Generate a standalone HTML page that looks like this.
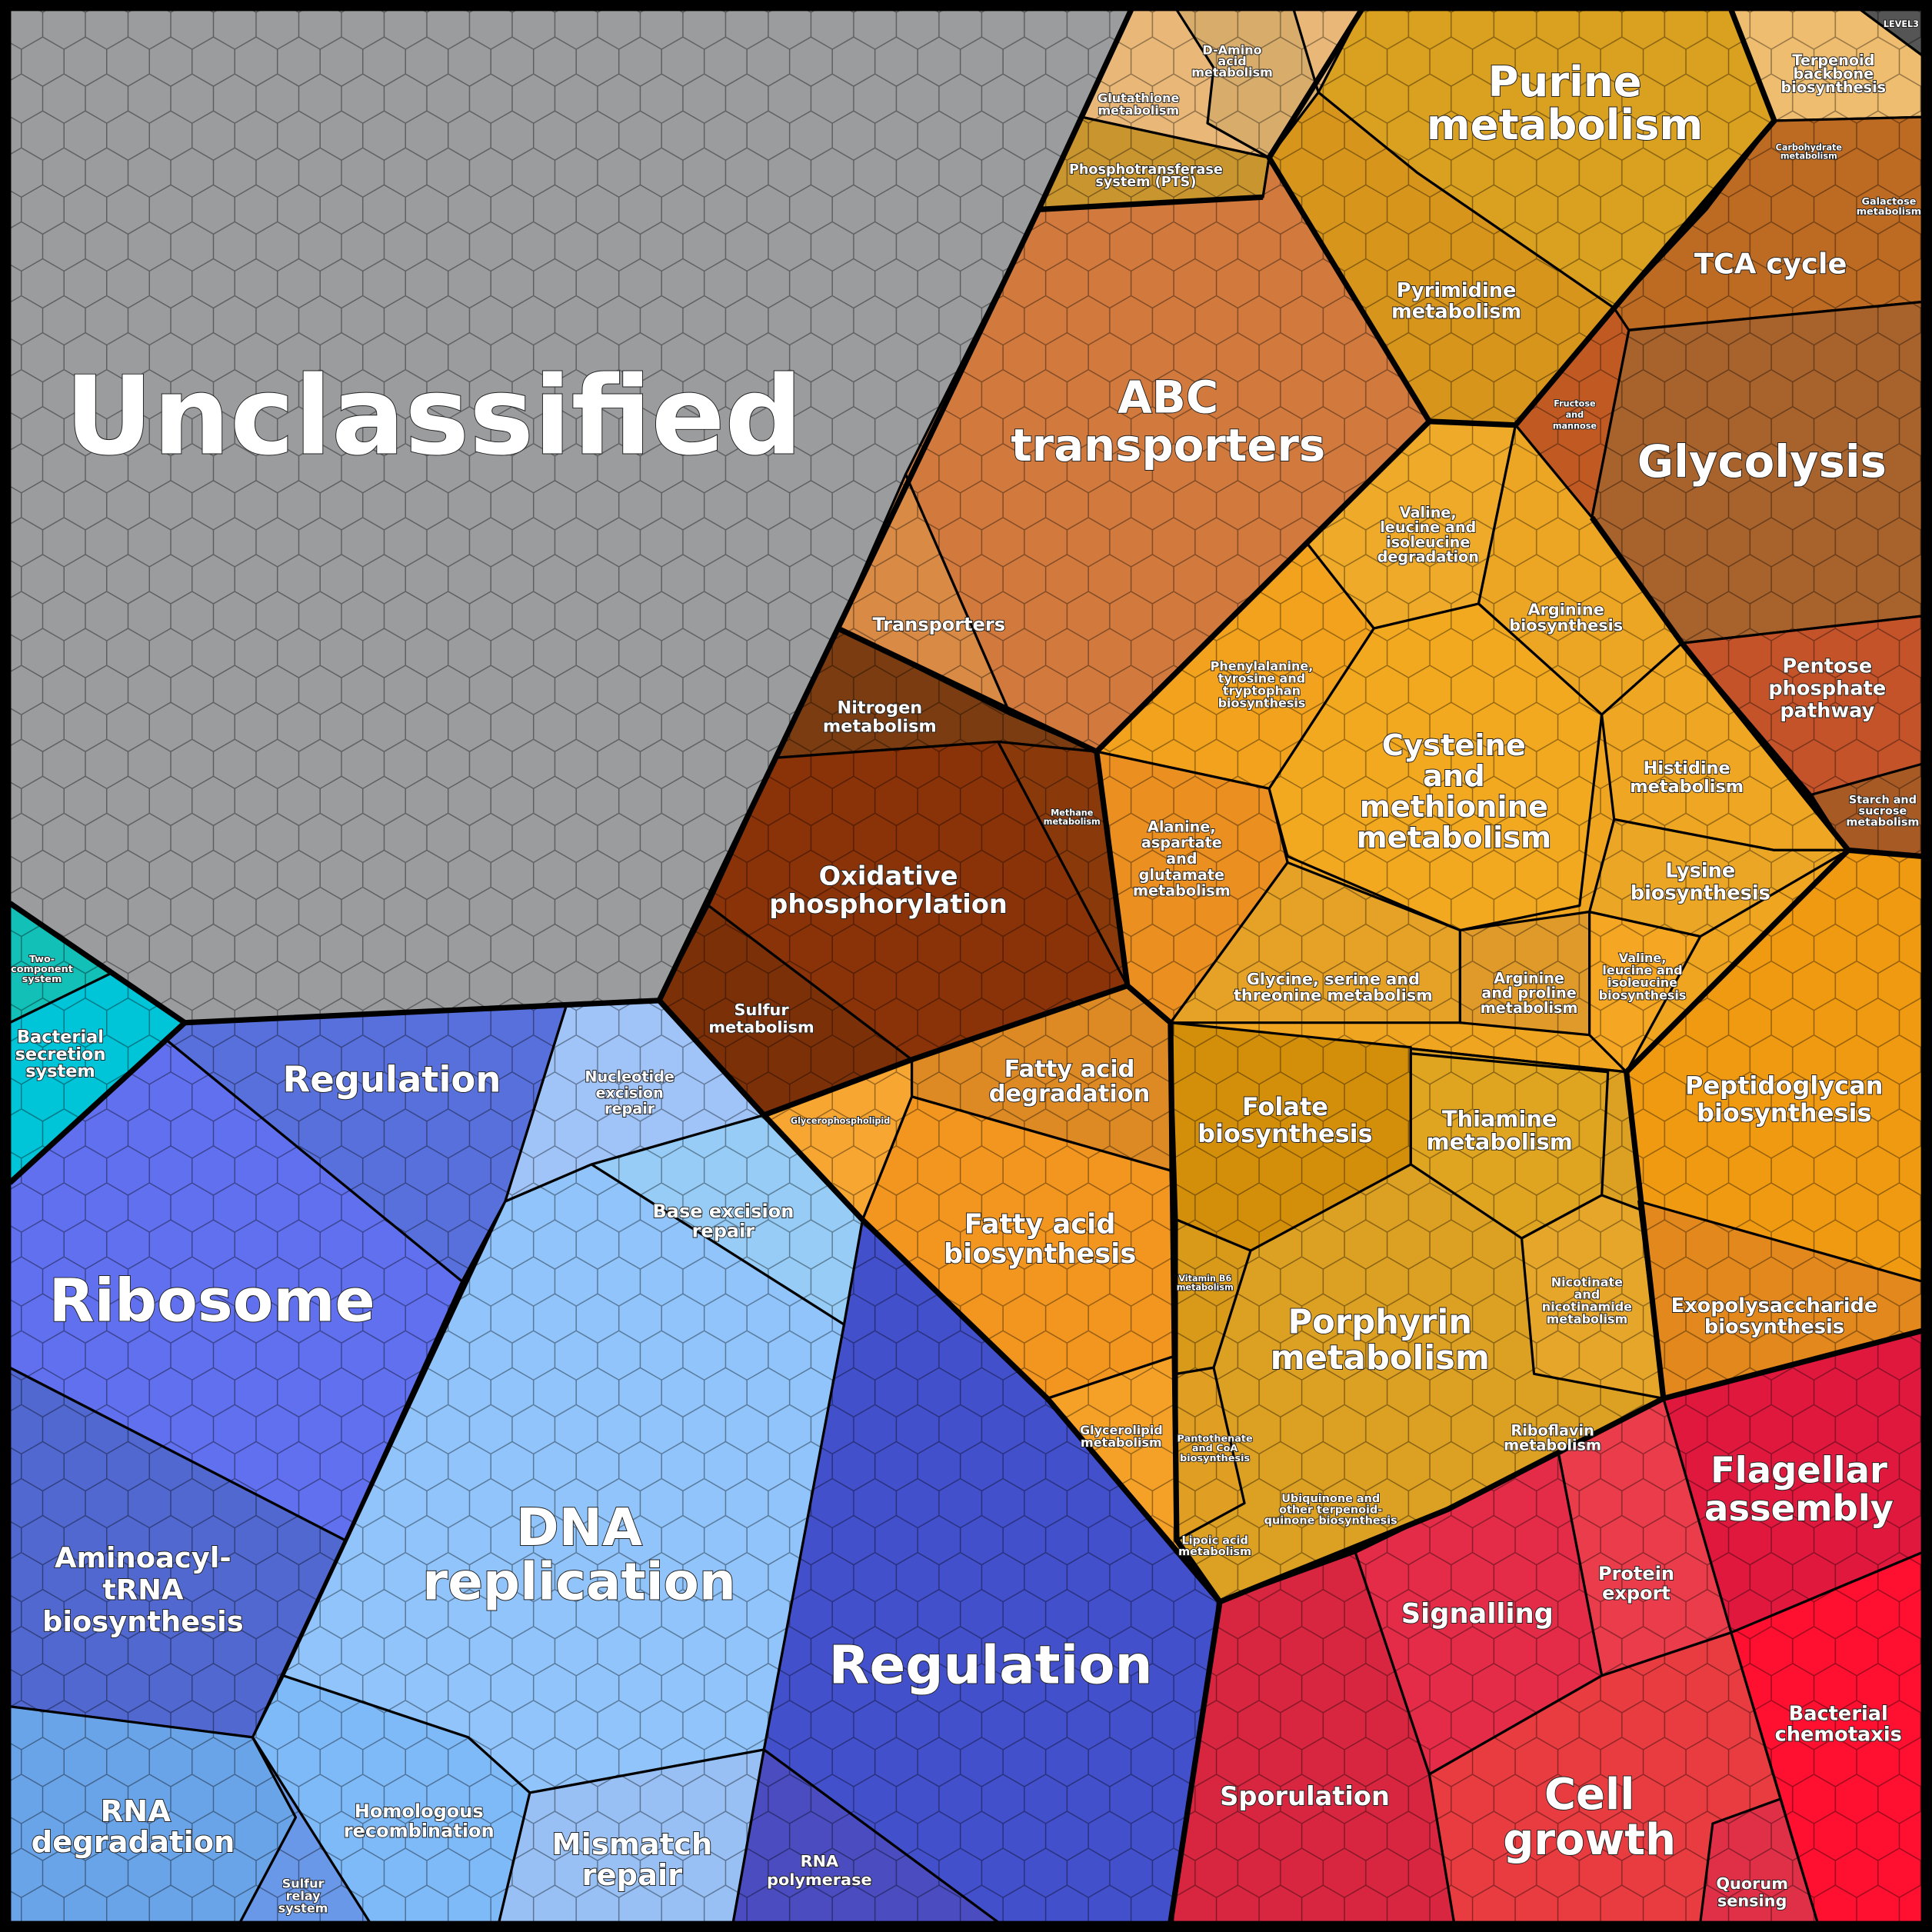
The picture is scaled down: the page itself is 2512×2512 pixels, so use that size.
<!DOCTYPE html>
<html><head><meta charset="utf-8"><style>
html,body{margin:0;padding:0;background:#000;}
svg{display:block;}
text{font-family:"DejaVu Sans","Liberation Sans",sans-serif;font-weight:bold;fill:#fff;stroke:#222;stroke-width:1.2;paint-order:stroke;text-anchor:middle;}
</style></head><body>
<svg width="2512" height="2512" viewBox="0 0 1568 1568" xmlns="http://www.w3.org/2000/svg">
<defs>
<pattern id="hx" width="34.64" height="60" patternUnits="userSpaceOnUse">
<path d="M17.32,0 L34.64,10 L34.64,30 L17.32,40 L0,30 L0,10 Z M17.32,40 L17.32,60" fill="none" stroke="#000" stroke-opacity="0.4" stroke-width="0.9"/>
</pattern>
</defs>
<rect width="1568" height="1568" fill="#000"/>
<g stroke="#000" stroke-width="2" stroke-linejoin="round">
<polygon fill="#9a9c9e" points="8,8 918,8 843,170 680,510 535,812 150,830 8,733"/>
<polygon fill="#e9b878" points="918,8 1105,8 1070,75 1030,128 878,95"/>
<polygon fill="#d8ad6c" points="955,8 1050,8 1070,75 1030,128 980,100 985,55"/>
<polygon fill="#c9952f" points="878,95 1030,128 1025,160 843,170"/>
<polygon fill="#daa01f" points="1105,8 1405,8 1440,98 1310,250 1150,140 1070,75"/>
<polygon fill="#d8951b" points="1070,75 1150,140 1310,250 1230,345 1160,342 1030,128"/>
<polygon fill="#efbd6f" points="1405,8 1530,8 1560,40 1560,95 1440,98"/>
<polygon fill="#555" points="1510,8 1560,8 1560,45"/>
<polygon fill="#bd6a22" points="1440,98 1560,95 1560,245 1320,268 1310,250 1385,170"/>
<polygon fill="#c15a22" points="1310,250 1322,268 1292,420 1230,345"/>
<polygon fill="#a8622c" points="1322,268 1560,245 1560,500 1365,522 1292,420"/>
<polygon fill="#c4532a" points="1365,522 1560,500 1560,620 1500,690 1470,645"/>
<polygon fill="#a85a25" points="1470,645 1560,620 1560,695 1500,692"/>
<polygon fill="#d27a3e" points="843,170 1025,160 1030,128 1160,342 890,610 820,580 735,385"/>
<polygon fill="#d98a45" points="735,385 820,580 890,610 680,510"/>
<polygon fill="#7a3c10" points="680,510 820,580 890,610 810,602 630,615"/>
<polygon fill="#8a3208" points="630,615 810,602 915,800 740,860 575,735"/>
<polygon fill="#8a3a0a" points="810,602 890,610 915,800"/>
<polygon fill="#7c3008" points="575,735 740,860 620,905 535,812"/>
<polygon fill="#f0a520" points="890,610 1160,342 1230,345 1292,420 1365,522 1500,690 1320,870 950,830 915,800"/>
<polygon fill="#eeaa28" points="1060,440 1160,342 1230,345 1200,490 1115,510"/>
<polygon fill="#eda624" points="1200,490 1230,345 1292,420 1365,522 1300,580"/>
<polygon fill="#f3a91f" points="1115,510 1200,490 1300,580 1282,735 1185,755 1045,695 1030,640"/>
<polygon fill="#f2a21c" points="890,610 1060,440 1115,510 1030,640"/>
<polygon fill="#ea8f20" points="890,610 1030,640 1045,700 950,830 915,800"/>
<polygon fill="#e6a226" points="1045,700 1185,755 1185,830 950,830"/>
<polygon fill="#e09a2a" points="1185,755 1290,740 1290,840 1185,830"/>
<polygon fill="#f5a622" points="1290,740 1380,760 1320,870 1290,840"/>
<polygon fill="#efa622" points="1300,580 1365,522 1500,690 1440,690 1310,665"/>
<polygon fill="#eca625" points="1310,665 1440,690 1500,690 1380,760 1290,740"/>
<polygon fill="#dd8a25" points="740,860 915,800 950,830 950,950 740,890"/>
<polygon fill="#f3961f" points="700,990 740,890 950,950 955,1100 850,1135"/>
<polygon fill="#f8a632" points="620,905 740,860 740,890 700,990"/>
<polygon fill="#f5a128" points="850,1135 955,1100 955,1250 990,1300"/>
<polygon fill="#dca022" points="950,830 1320,870 1350,1135 1175,1225 990,1300 955,1250"/>
<polygon fill="#d48f0a" points="950,830 1145,850 1145,945 1015,1015 955,990"/>
<polygon fill="#e0a520" points="1145,855 1305,870 1300,970 1235,1005 1145,945"/>
<polygon fill="#e6a62a" points="1235,1005 1300,970 1340,985 1350,1135 1245,1115"/>
<polygon fill="#d99a1a" points="955,990 1015,1015 985,1110 955,1115"/>
<polygon fill="#e09e22" points="955,1115 985,1110 1010,1220 955,1250"/>
<polygon fill="#f09a12" points="1500,690 1560,695 1560,1080 1350,1135 1320,870"/>
<polygon fill="#e2881c" points="1330,975 1560,1040 1560,1080 1350,1135"/>
<polygon fill="#e0183e" points="1350,1135 1560,1080 1560,1260 1405,1325"/>
<polygon fill="#ff1030" points="1405,1325 1560,1260 1560,1560 1475,1560"/>
<polygon fill="#ea3c4a" points="1265,1180 1350,1135 1405,1325 1300,1360"/>
<polygon fill="#e42c48" points="1100,1260 1265,1180 1300,1360 1160,1440"/>
<polygon fill="#e93c40" points="1160,1440 1300,1360 1405,1325 1445,1460 1380,1560 1180,1560"/>
<polygon fill="#e03048" points="1390,1480 1445,1460 1475,1560 1380,1560"/>
<polygon fill="#d82640" points="990,1300 1100,1260 1160,1440 1180,1560 950,1560"/>
<polygon fill="#4250cc" points="700,990 850,1135 990,1300 950,1560 810,1560 620,1420 685,1075"/>
<polygon fill="#4a4cc0" points="620,1420 810,1560 595,1560"/>
<polygon fill="#96ccf5" points="480,945 620,905 700,990 685,1075"/>
<polygon fill="#90c4fa" points="410,975 480,945 685,1075 620,1420 430,1455 380,1410 230,1360"/>
<polygon fill="#7fbaf8" points="205,1410 230,1360 380,1410 430,1455 405,1560 300,1560"/>
<polygon fill="#98c0f4" points="430,1455 620,1420 595,1560 405,1560"/>
<polygon fill="#a0c4f8" points="460,815 535,812 620,905 480,945 410,975"/>
<polygon fill="#5870dc" points="150,830 460,815 410,975 375,1040 135,844"/>
<polygon fill="#6070ee" points="8,960 135,844 375,1040 280,1250 8,1110"/>
<polygon fill="#5068d0" points="8,1110 280,1250 205,1410 8,1385"/>
<polygon fill="#6aa4e8" points="8,1385 205,1410 240,1475 195,1560 8,1560"/>
<polygon fill="#6a98e8" points="205,1410 300,1560 195,1560 240,1475"/>
<polygon fill="#12c0b8" points="8,733 90,790 8,830"/>
<polygon fill="#00c4d8" points="8,830 90,790 150,830 8,960"/>
</g>
<rect x="8" y="8" width="1552" height="1552" fill="url(#hx)"/>
<g fill="none" stroke="#000" stroke-width="4.5" stroke-linejoin="round">
<polyline points="918,8 843,170 680,510 535,812 150,830 8,733"/>
<polyline points="535,812 620,905 740,860 915,800 890,610 1160,342 1030,128 1105,8"/>
<polyline points="1160,342 1230,345 1310,250 1440,98 1405,8"/>
<polyline points="1292,420 1365,522 1500,690 1320,870 1350,1135 1175,1225 990,1300"/>
<polyline points="1500,690 1560,695"/>
<polyline points="915,800 950,830 955,1250 990,1300 850,1135 700,990 620,905"/>
<polyline points="990,1300 950,1560"/>
<polyline points="1350,1135 1560,1080"/>
<polyline points="150,830 8,960"/>
<polyline points="843,170 1025,160"/>
<polyline points="680,510 890,610"/>
</g>
<rect x="4" y="4" width="1560" height="1560" fill="none" stroke="#000" stroke-width="8"/>
<g>
<text x="352" y="368" font-size="88" stroke-width="3">Unclassified</text>
<text x="1270" y="78" font-size="34" stroke-width="2">Purine</text>
<text x="1270" y="113" font-size="34" stroke-width="2">metabolism</text>
<text x="948" y="335" font-size="36" stroke-width="2">ABC</text>
<text x="948" y="374" font-size="36" stroke-width="2">transporters</text>
<text x="1430" y="387" font-size="36" stroke-width="2">Glycolysis</text>
<text x="1437" y="222" font-size="23">TCA cycle</text>
<text x="1182" y="241" font-size="16">Pyrimidine</text>
<text x="1182" y="258" font-size="16">metabolism</text>
<text x="762" y="512" font-size="15">Transporters</text>
<text x="714" y="579" font-size="14">Nitrogen</text>
<text x="714" y="594" font-size="14">metabolism</text>
<text x="721" y="718" font-size="21">Oxidative</text>
<text x="721" y="741" font-size="21">phosphorylation</text>
<text x="618" y="824" font-size="13">Sulfur</text>
<text x="618" y="838" font-size="13">metabolism</text>
<text x="1180" y="613" font-size="24">Cysteine</text>
<text x="1180" y="638" font-size="24">and</text>
<text x="1180" y="663" font-size="24">methionine</text>
<text x="1180" y="688" font-size="24">metabolism</text>
<text x="1483" y="546" font-size="16">Pentose</text>
<text x="1483" y="564" font-size="16">phosphate</text>
<text x="1483" y="582" font-size="16">pathway</text>
<text x="1369" y="628" font-size="14">Histidine</text>
<text x="1369" y="643" font-size="14">metabolism</text>
<text x="1380" y="712" font-size="16">Lysine</text>
<text x="1380" y="730" font-size="16">biosynthesis</text>
<text x="1271" y="499" font-size="13">Arginine</text>
<text x="1271" y="512" font-size="13">biosynthesis</text>
<text x="1159" y="420" font-size="12">Valine,</text>
<text x="1159" y="432" font-size="12">leucine and</text>
<text x="1159" y="444" font-size="12">isoleucine</text>
<text x="1159" y="456" font-size="12">degradation</text>
<text x="959" y="675" font-size="12">Alanine,</text>
<text x="959" y="688" font-size="12">aspartate</text>
<text x="959" y="701" font-size="12">and</text>
<text x="959" y="714" font-size="12">glutamate</text>
<text x="959" y="727" font-size="12">metabolism</text>
<text x="1082" y="799" font-size="13">Glycine, serine and</text>
<text x="1082" y="812" font-size="13">threonine metabolism</text>
<text x="1241" y="798" font-size="12">Arginine</text>
<text x="1241" y="810" font-size="12">and proline</text>
<text x="1241" y="822" font-size="12">metabolism</text>
<text x="1448" y="888" font-size="20">Peptidoglycan</text>
<text x="1448" y="910" font-size="20">biosynthesis</text>
<text x="1440" y="1065" font-size="16">Exopolysaccharide</text>
<text x="1440" y="1082" font-size="16">biosynthesis</text>
<text x="868" y="874" font-size="19">Fatty acid</text>
<text x="868" y="894" font-size="19">degradation</text>
<text x="844" y="1001" font-size="22">Fatty acid</text>
<text x="844" y="1025" font-size="22">biosynthesis</text>
<text x="1043" y="905" font-size="20">Folate</text>
<text x="1043" y="927" font-size="20">biosynthesis</text>
<text x="1217" y="914" font-size="18">Thiamine</text>
<text x="1217" y="933" font-size="18">metabolism</text>
<text x="1120" y="1082" font-size="27">Porphyrin</text>
<text x="1120" y="1111" font-size="27">metabolism</text>
<text x="1260" y="1165" font-size="12">Riboflavin</text>
<text x="1260" y="1177" font-size="12">metabolism</text>
<text x="1460" y="1203" font-size="29">Flagellar</text>
<text x="1460" y="1234" font-size="29">assembly</text>
<text x="1199" y="1317" font-size="22">Signalling</text>
<text x="1328" y="1282" font-size="15">Protein</text>
<text x="1328" y="1298" font-size="15">export</text>
<text x="1492" y="1396" font-size="16">Bacterial</text>
<text x="1492" y="1413" font-size="16">chemotaxis</text>
<text x="1290" y="1468" font-size="35" stroke-width="2">Cell</text>
<text x="1290" y="1505" font-size="35" stroke-width="2">growth</text>
<text x="1422" y="1533" font-size="13">Quorum</text>
<text x="1422" y="1547" font-size="13">sensing</text>
<text x="1059" y="1465" font-size="21">Sporulation</text>
<text x="804" y="1366" font-size="43" stroke-width="2">Regulation</text>
<text x="665" y="1515" font-size="13">RNA</text>
<text x="665" y="1530" font-size="13">polymerase</text>
<text x="470" y="1254" font-size="42" stroke-width="2">DNA</text>
<text x="470" y="1298" font-size="42" stroke-width="2">replication</text>
<text x="513" y="1505" font-size="24">Mismatch</text>
<text x="513" y="1530" font-size="24">repair</text>
<text x="340" y="1475" font-size="15">Homologous</text>
<text x="340" y="1491" font-size="15">recombination</text>
<text x="587" y="988" font-size="15">Base excision</text>
<text x="587" y="1004" font-size="15">repair</text>
<text x="511" y="878" font-size="12">Nucleotide</text>
<text x="511" y="891" font-size="12">excision</text>
<text x="511" y="904" font-size="12">repair</text>
<text x="318" y="886" font-size="29">Regulation</text>
<text x="172" y="1072" font-size="48" stroke-width="2">Ribosome</text>
<text x="116" y="1272" font-size="23">Aminoacyl-</text>
<text x="116" y="1298" font-size="23">tRNA</text>
<text x="116" y="1324" font-size="23">biosynthesis</text>
<text x="110" y="1478" font-size="24">RNA</text>
<text x="108" y="1503" font-size="24">degradation</text>
<text x="246" y="1532" font-size="10">Sulfur</text>
<text x="246" y="1542" font-size="10">relay</text>
<text x="246" y="1552" font-size="10">system</text>
<text x="49" y="846" font-size="14">Bacterial</text>
<text x="49" y="860" font-size="14">secretion</text>
<text x="49" y="874" font-size="14">system</text>
<text x="34" y="781" font-size="8" stroke-width="0.6">Two-</text>
<text x="34" y="789" font-size="8" stroke-width="0.6">component</text>
<text x="34" y="797" font-size="8" stroke-width="0.6">system</text>
<text x="930" y="141" font-size="11">Phosphotransferase</text>
<text x="930" y="151" font-size="11">system (PTS)</text>
<text x="924" y="83" font-size="10">Glutathione</text>
<text x="924" y="93" font-size="10">metabolism</text>
<text x="1000" y="44" font-size="10">D-Amino</text>
<text x="1000" y="53" font-size="10">acid</text>
<text x="1000" y="62" font-size="10">metabolism</text>
<text x="1488" y="53" font-size="12">Terpenoid</text>
<text x="1488" y="64" font-size="12">backbone</text>
<text x="1488" y="75" font-size="12">biosynthesis</text>
<text x="1468" y="122" font-size="7" stroke-width="0.5">Carbohydrate</text>
<text x="1468" y="129" font-size="7" stroke-width="0.5">metabolism</text>
<text x="1533" y="166" font-size="8" stroke-width="0.5">Galactose</text>
<text x="1533" y="174" font-size="8" stroke-width="0.5">metabolism</text>
<text x="1278" y="330" font-size="7" stroke-width="0.5">Fructose</text>
<text x="1278" y="339" font-size="7" stroke-width="0.5">and</text>
<text x="1278" y="348" font-size="7" stroke-width="0.5">mannose</text>
<text x="1528" y="652" font-size="9" stroke-width="0.6">Starch and</text>
<text x="1528" y="661" font-size="9" stroke-width="0.6">sucrose</text>
<text x="1528" y="670" font-size="9" stroke-width="0.6">metabolism</text>
<text x="870" y="662" font-size="7" stroke-width="0.5">Methane</text>
<text x="870" y="669" font-size="7" stroke-width="0.5">metabolism</text>
<text x="1024" y="544" font-size="10" stroke-width="0.7">Phenylalanine,</text>
<text x="1024" y="554" font-size="10" stroke-width="0.7">tyrosine and</text>
<text x="1024" y="564" font-size="10" stroke-width="0.7">tryptophan</text>
<text x="1024" y="574" font-size="10" stroke-width="0.7">biosynthesis</text>
<text x="1333" y="781" font-size="10" stroke-width="0.7">Valine,</text>
<text x="1333" y="791" font-size="10" stroke-width="0.7">leucine and</text>
<text x="1333" y="801" font-size="10" stroke-width="0.7">isoleucine</text>
<text x="1333" y="811" font-size="10" stroke-width="0.7">biosynthesis</text>
<text x="682" y="912" font-size="7" stroke-width="0.5">Glycerophospholipid</text>
<text x="910" y="1164" font-size="10" stroke-width="0.7">Glycerolipid</text>
<text x="910" y="1174" font-size="10" stroke-width="0.7">metabolism</text>
<text x="1288" y="1044" font-size="10" stroke-width="0.7">Nicotinate</text>
<text x="1288" y="1054" font-size="10" stroke-width="0.7">and</text>
<text x="1288" y="1064" font-size="10" stroke-width="0.7">nicotinamide</text>
<text x="1288" y="1074" font-size="10" stroke-width="0.7">metabolism</text>
<text x="978" y="1040" font-size="7" stroke-width="0.5">Vitamin B6</text>
<text x="978" y="1047" font-size="7" stroke-width="0.5">metabolism</text>
<text x="986" y="1170" font-size="8" stroke-width="0.5">Pantothenate</text>
<text x="986" y="1178" font-size="8" stroke-width="0.5">and CoA</text>
<text x="986" y="1186" font-size="8" stroke-width="0.5">biosynthesis</text>
<text x="986" y="1253" font-size="9" stroke-width="0.6">Lipoic acid</text>
<text x="986" y="1262" font-size="9" stroke-width="0.6">metabolism</text>
<text x="1080" y="1219" font-size="9" stroke-width="0.6">Ubiquinone and</text>
<text x="1080" y="1228" font-size="9" stroke-width="0.6">other terpenoid-</text>
<text x="1080" y="1237" font-size="9" stroke-width="0.6">quinone biosynthesis</text>
<text x="1543" y="22" font-size="7" stroke-width="0.4">LEVEL3</text>
</g>
</svg>
</body></html>
